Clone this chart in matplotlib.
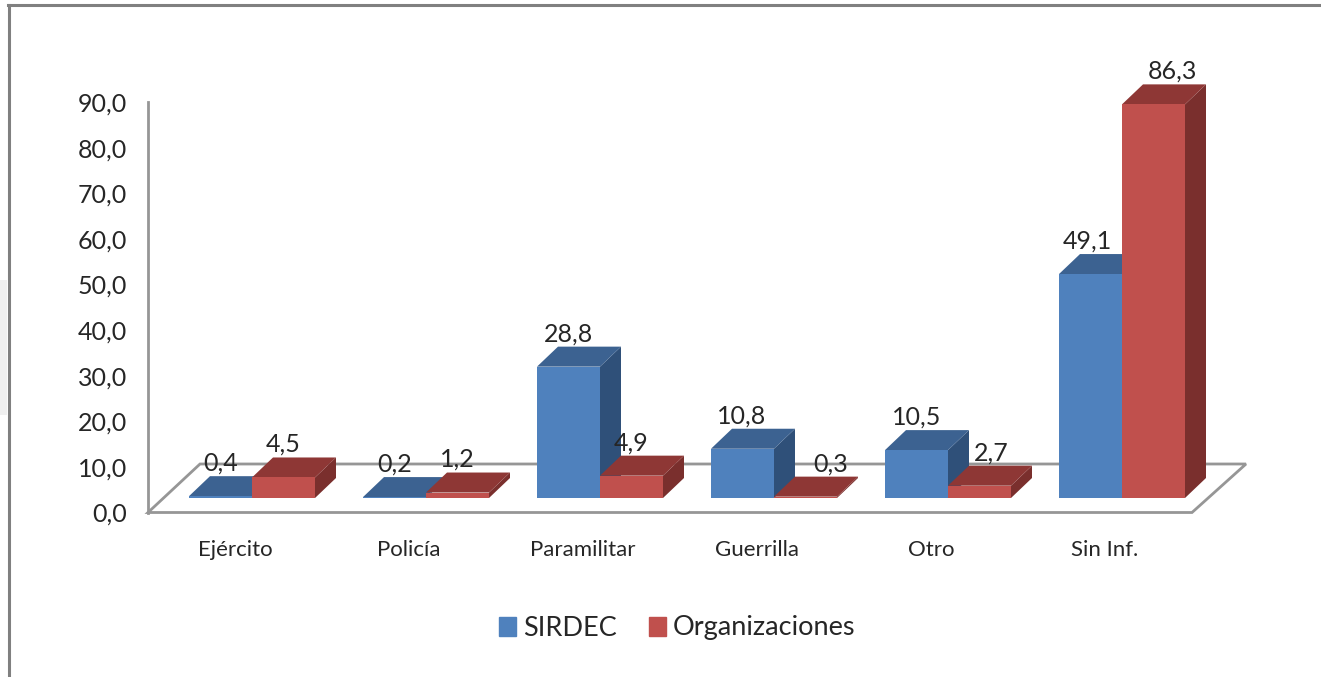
import matplotlib

matplotlib.use("Agg")
import matplotlib.pyplot as plt
from matplotlib.patches import Patch, Polygon, Rectangle

categories = ["Ejército", "Policía", "Paramilitar", "Guerrilla", "Otro", "Sin Inf."]
sirdec = [0.4, 0.2, 28.8, 10.8, 10.5, 49.1]
organizaciones = [4.5, 1.2, 4.9, 0.3, 2.7, 86.3]
y_ticks = [0, 10, 20, 30, 40, 50, 60, 70, 80, 90]
series_names = ["SIRDEC", "Organizaciones"]

W, H = 1321, 677
FONT = ["Lato", "DejaVu Sans"]
TEXT = "#262626"
GRID = "#969696"
BLUE = ("#4F81BD", "#3C6291", "#2F5079")
RED = ("#C0504D", "#8E3735", "#7A2F2D")

# pixel frame of the chart: value 0 to 90 on the wall, first category centre
PX_LEFT, PX_RIGHT = 148, 1246
PX_TOP, PX_BOTTOM = 102, 512.5
PX_STEP = 174
PX_FIRST = 252
X_UNIT = PX_STEP
Y_UNIT = (PX_BOTTOM - PX_TOP) / 90

BAR_W = 63 / X_UNIT
DX = 21 / X_UNIT
DY = 20 / Y_UNIT
BASE = (PX_BOTTOM - 498) / Y_UNIT

# label nudges in pixels where the original moved them off the bar
sirdec_nudge = [0, 0, 0, -1, 0, -3]
org_nudge = [0, 0, 0, 25, 12, 19]


def px_x(px):
    return (px - PX_FIRST) / X_UNIT


plt.rcParams["font.family"] = FONT
fig = plt.figure(figsize=(W / 100, H / 100), dpi=100)
ax = fig.add_axes(
    [PX_LEFT / W, 1 - PX_BOTTOM / H, (PX_RIGHT - PX_LEFT) / W, (PX_BOTTOM - PX_TOP) / H]
)
ax.set_xlim(px_x(PX_LEFT), px_x(PX_RIGHT))
ax.set_ylim(0, 90)
ax.patch.set_visible(False)
for name in ["top", "right", "bottom"]:
    ax.spines[name].set_visible(False)
ax.spines["left"].set_color(GRID)
ax.spines["left"].set_linewidth(2)

ax.set_yticks(y_ticks)
ax.set_yticklabels([f"{v:.1f}".replace(".", ",") for v in y_ticks], fontsize=18, color=TEXT)
ax.set_xticks([i - 17 / X_UNIT for i in range(len(categories))])
ax.set_xticklabels(categories, fontsize=16, color=TEXT)
ax.tick_params(axis="y", length=0, pad=15)
ax.tick_params(axis="x", length=0, pad=20)

# floor outline
floor = [
    (px_x(PX_LEFT), 0),
    (px_x(1192), 0),
    (px_x(PX_RIGHT), (PX_BOTTOM - 464) / Y_UNIT),
    (px_x(200), (PX_BOTTOM - 464) / Y_UNIT),
]
ax.add_patch(Polygon(floor, closed=True, fill=False, edgecolor=GRID, lw=2, clip_on=False, zorder=1))


def draw_bar(x0, value, colors):
    front, top, side = colors
    x1 = x0 + BAR_W
    y0 = BASE
    y1 = BASE + value
    ax.add_patch(Polygon([(x1, y0), (x1 + DX, y0 + DY), (x1 + DX, y1 + DY), (x1, y1)],
                         color=side, lw=0, clip_on=False, zorder=2))
    ax.add_patch(Polygon([(x0, y1), (x1, y1), (x1 + DX, y1 + DY), (x0 + DX, y1 + DY)],
                         color=top, lw=0, clip_on=False, zorder=2))
    ax.add_patch(Rectangle((x0, y0), BAR_W, value, color=front, lw=0, clip_on=False, zorder=2))


def draw_label(x_center, value, nudge):
    ax.text(x_center + nudge / X_UNIT, BASE + value + DY + 13 / Y_UNIT, f"{value:.1f}".replace(".", ","),
            ha="center", va="center", fontsize=18, color=TEXT, zorder=5, clip_on=False)


for i in range(len(categories)):
    draw_bar(i - BAR_W, sirdec[i], BLUE)
    draw_bar(i, organizaciones[i], RED)

for i in range(len(categories)):
    draw_label(i - BAR_W / 2, sirdec[i], sirdec_nudge[i])
    draw_label(i + BAR_W / 2, organizaciones[i], org_nudge[i])

handles = [Patch(color=BLUE[0], label=series_names[0]), Patch(color=RED[0], label=series_names[1])]
fig.legend(
    handles=handles,
    loc="center",
    bbox_to_anchor=(677 / W, 1 - 628 / H),
    ncols=2,
    frameon=False,
    fontsize=19.5,
    labelcolor=TEXT,
    handlelength=0.62,
    handleheight=0.7,
    handletextpad=0.26,
    columnspacing=1.2,
)

# frame of the pasted picture and the faint patch left of it
fig.add_artist(Rectangle((0, 1 - 415 / H), 7 / W, 135 / H, transform=fig.transFigure,
                         color="#F0F0F0", lw=0))
fig.add_artist(plt.Line2D([8.5 / W, 8.5 / W], [0, 1 - 4.5 / H], color="#808080", lw=2.2))
fig.add_artist(plt.Line2D([7.5 / W, 1], [1 - 4.5 / H, 1 - 4.5 / H], color="#808080", lw=2.2))

fig.savefig("out.png", dpi=100)
